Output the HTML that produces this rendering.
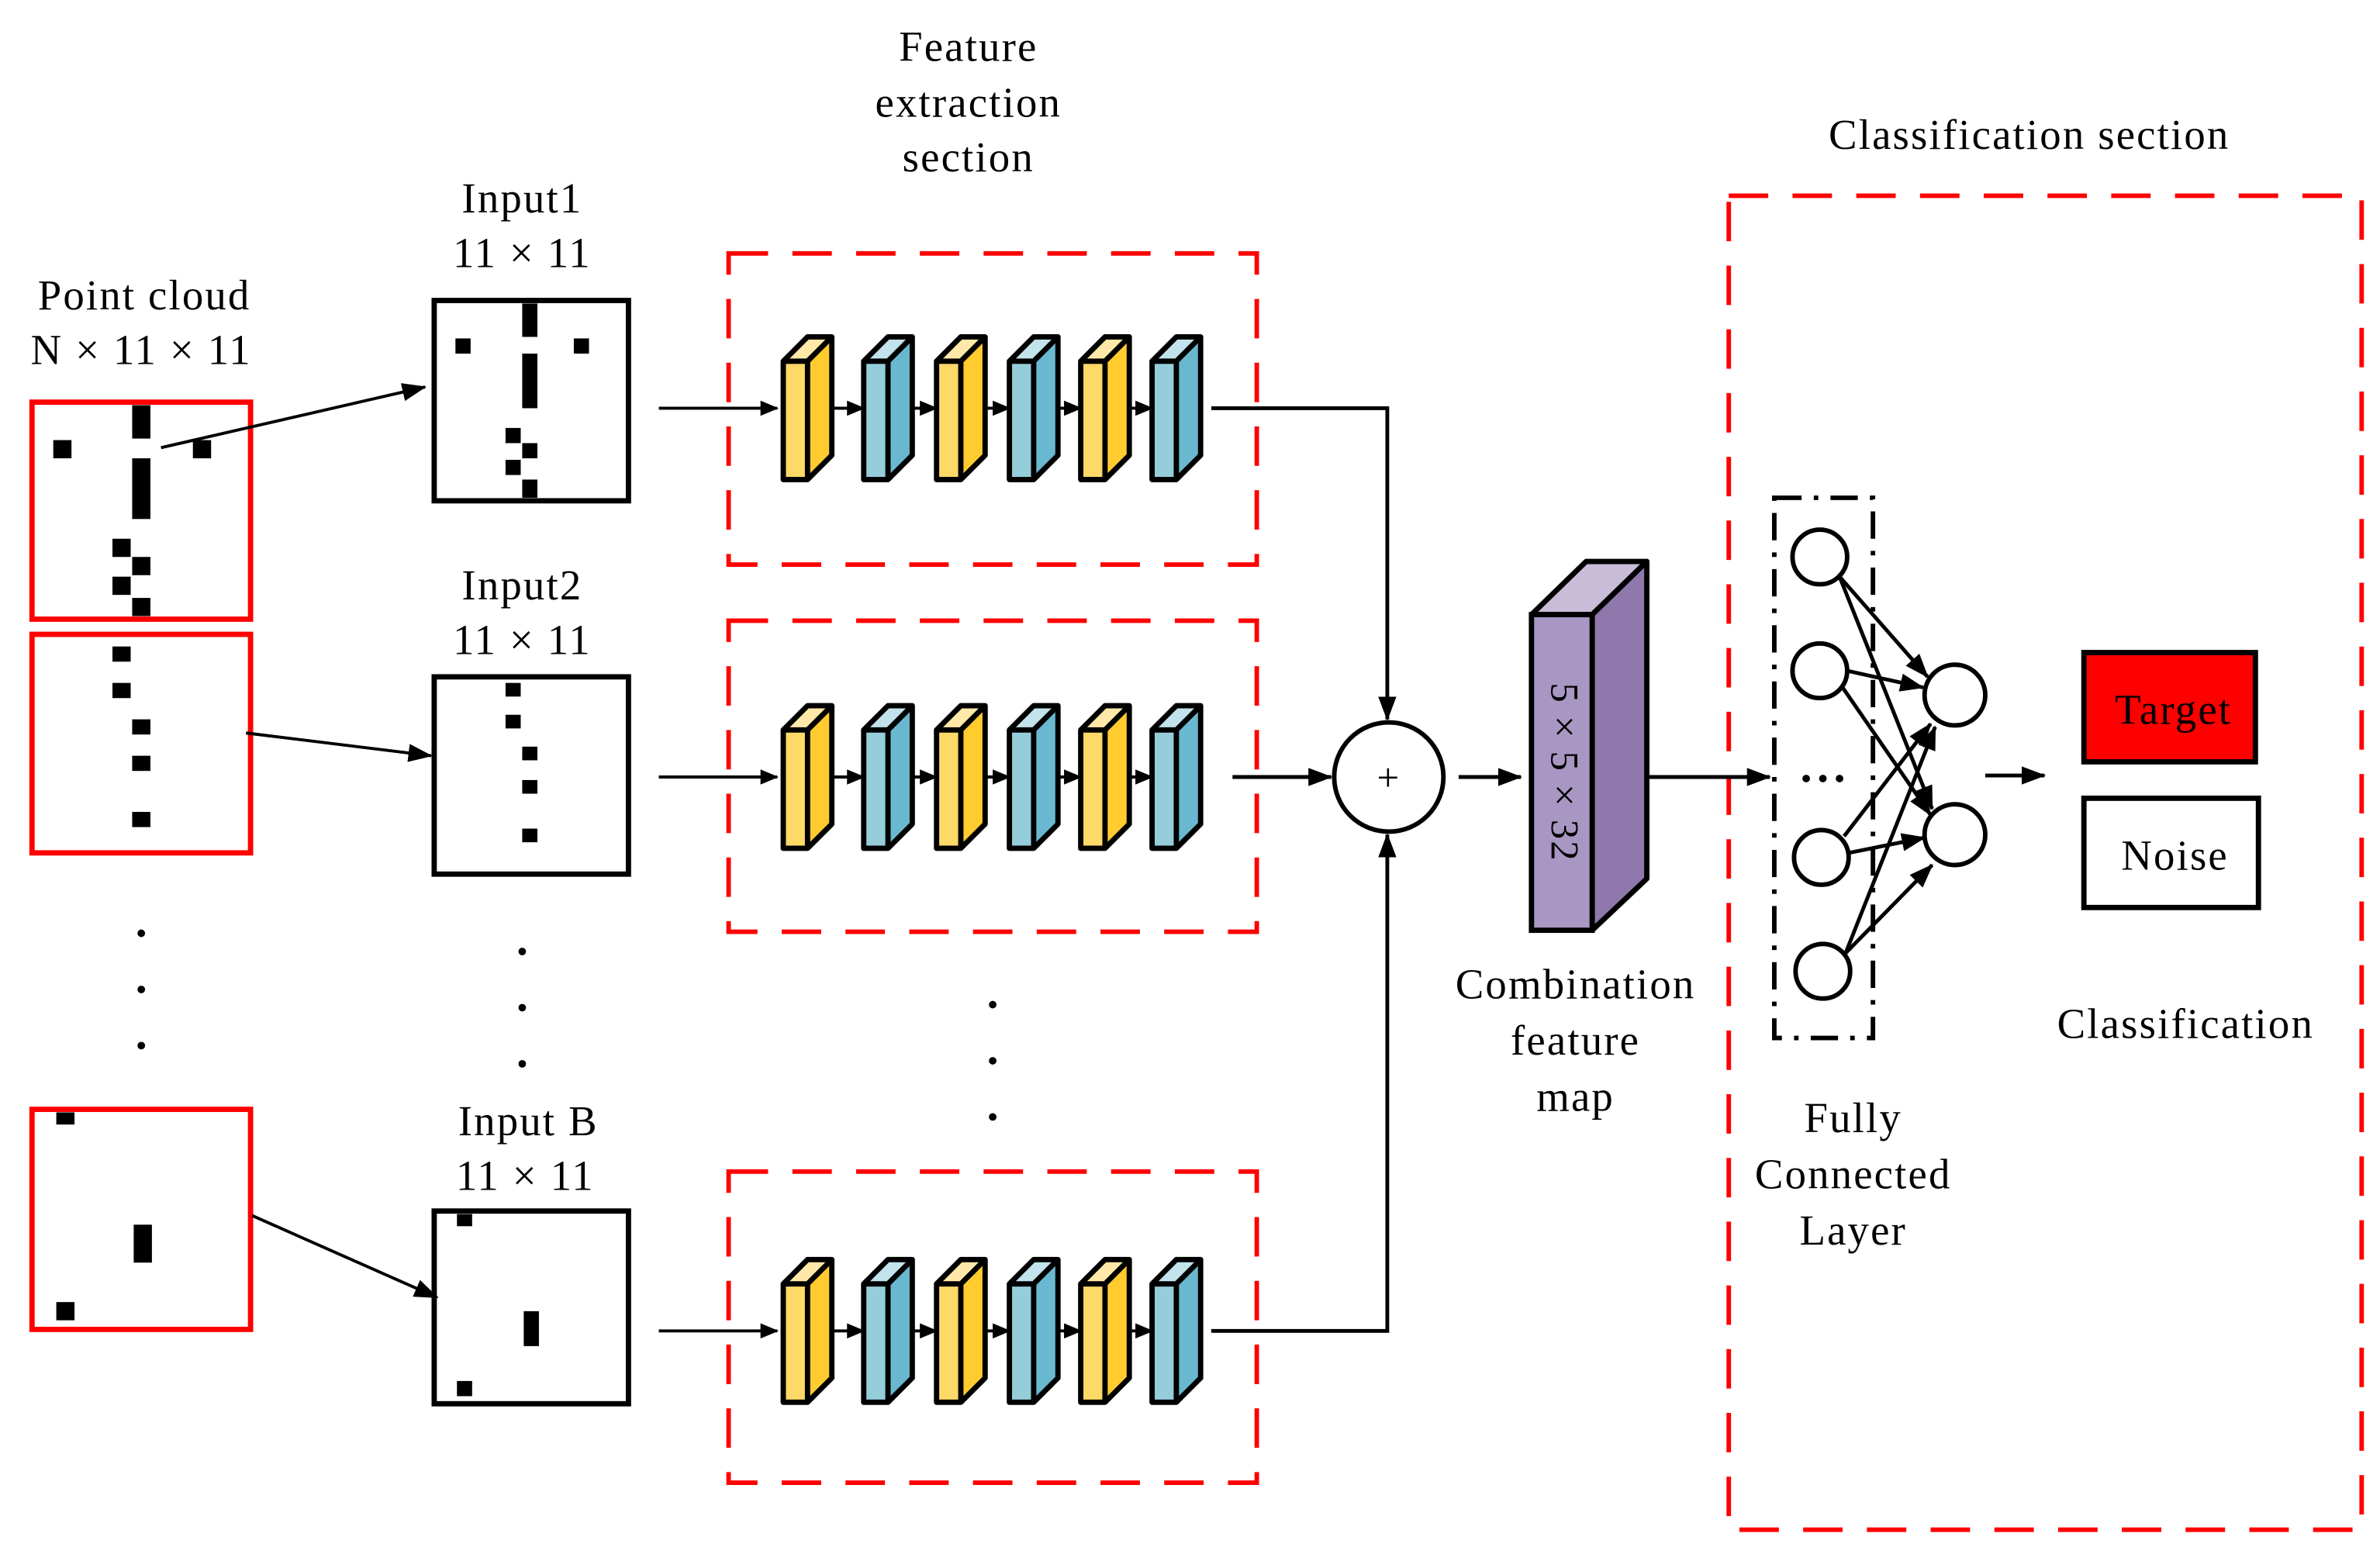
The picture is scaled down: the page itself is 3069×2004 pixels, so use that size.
<!DOCTYPE html>
<html><head><meta charset="utf-8"><style>html,body{margin:0;padding:0;background:#fff}svg{display:block}text{font-family:"Liberation Serif",serif;fill:#000;letter-spacing:1.1px}</style></head>
<body>
<svg width="3069" height="2004" viewBox="0 0 1568 1024" xmlns="http://www.w3.org/2000/svg">
<defs>
<marker id="ar" markerWidth="12" markerHeight="10" refX="11" refY="5" orient="auto" markerUnits="userSpaceOnUse"><path d="M0,0L12,5L0,10z" fill="#000"/></marker>
<marker id="ar2" markerWidth="16" markerHeight="12" refX="15" refY="6" orient="auto" markerUnits="userSpaceOnUse"><path d="M0,0L16,6L0,12z" fill="#000"/></marker>
<g id="Y"><path d="M0,16L16,0L32,0L16,16z" fill="#FFE8A8"/><path d="M16,16L32,0L32,78L16,94z" fill="#FFCB2F"/><rect x="0" y="16" width="16" height="78" fill="#FDD968"/><path d="M0,16L16,0L32,0L32,78L16,94L0,94z M0,16H16V94 M16,16L32,0" fill="none" stroke="#000" stroke-width="3.5" stroke-linejoin="round"/></g>
<g id="B"><path d="M0,16L16,0L32,0L16,16z" fill="#C2E3EB"/><path d="M16,16L32,0L32,78L16,94z" fill="#6AB8CF"/><rect x="0" y="16" width="16" height="78" fill="#95CDDB"/><path d="M0,16L16,0L32,0L32,78L16,94L0,94z M0,16H16V94 M16,16L32,0" fill="none" stroke="#000" stroke-width="3.5" stroke-linejoin="round"/></g>
<g id="row">
<use href="#Y" x="516" y="-47"/><use href="#B" x="569" y="-47"/><use href="#Y" x="617" y="-47"/><use href="#B" x="665" y="-47"/><use href="#Y" x="712" y="-47"/><use href="#B" x="759" y="-47"/>
<g stroke="#000" stroke-width="2" marker-end="url(#ar)"><line x1="548" y1="0" x2="569" y2="0"/><line x1="601" y1="0" x2="617" y2="0"/><line x1="649" y1="0" x2="665" y2="0"/><line x1="697" y1="0" x2="712" y2="0"/><line x1="744" y1="0" x2="759" y2="0"/></g>
<line x1="434" y1="0" x2="512" y2="0" stroke="#000" stroke-width="2" marker-end="url(#ar)"/>
</g>
</defs>

<g font-size="28" text-anchor="middle">
<text x="638" y="40">Feature</text><text x="638" y="77">extraction</text><text x="638" y="113">section</text>
<text x="1337" y="98">Classification section</text>
<text x="95" y="204">Point cloud</text><text x="93" y="240">N × 11 × 11</text>
<text x="344" y="140">Input1</text><text x="344" y="176">11 × 11</text>
<text x="344" y="395">Input2</text><text x="344" y="431">11 × 11</text>
<text x="348" y="748">Input B</text><text x="346" y="784">11 × 11</text>
<text x="1038" y="658">Combination</text><text x="1038" y="695">feature</text><text x="1038" y="732">map</text>
<text x="1221" y="746">Fully</text><text x="1221" y="783">Connected</text><text x="1221" y="820">Layer</text>
<text x="1440" y="684">Classification</text>
</g>

<g fill="none" stroke="#f00" stroke-width="3" stroke-dasharray="26,16">
<rect x="480" y="167" width="348" height="205"/>
<rect x="480" y="409" width="348" height="205"/>
<rect x="480" y="772" width="348" height="205"/>
<rect x="1139" y="129" width="417" height="879"/>
</g>

<g fill="none" stroke="#f00" stroke-width="3.5">
<rect x="21" y="265" width="144" height="143"/><rect x="21" y="418" width="144" height="144"/><rect x="21" y="731" width="144" height="145"/>
</g>
<g fill="#000">
<rect x="35" y="290" width="12" height="12"/><rect x="87" y="267" width="12" height="22"/><rect x="127" y="290" width="12" height="12"/><rect x="87" y="302" width="12" height="40"/><rect x="74" y="355" width="12" height="12"/><rect x="87" y="367" width="12" height="12"/><rect x="74" y="380" width="12" height="12"/><rect x="87" y="394" width="12" height="12"/>
<rect x="74" y="426" width="12" height="10"/><rect x="74" y="450" width="12" height="10"/><rect x="87" y="474" width="12" height="10"/><rect x="87" y="498" width="12" height="10"/><rect x="87" y="535" width="12" height="10"/>
<rect x="37" y="733" width="12" height="8"/><rect x="88" y="807" width="12" height="25"/><rect x="37" y="858" width="12" height="12"/>
<circle cx="93" cy="615" r="2.5"/><circle cx="93" cy="652" r="2.5"/><circle cx="93" cy="689" r="2.5"/>
<circle cx="344" cy="627" r="2.5"/><circle cx="344" cy="664" r="2.5"/><circle cx="344" cy="701" r="2.5"/>
<circle cx="654" cy="662" r="2.5"/><circle cx="654" cy="699" r="2.5"/><circle cx="654" cy="736" r="2.5"/>
</g>

<g fill="none" stroke="#000" stroke-width="3.5">
<rect x="286" y="198" width="128" height="132"/><rect x="286" y="446" width="128" height="130"/><rect x="286" y="798" width="128" height="127"/>
</g>
<g fill="#000">
<rect x="300" y="223" width="10" height="10"/><rect x="344" y="200" width="10" height="22"/><rect x="378" y="223" width="10" height="10"/><rect x="344" y="233" width="10" height="36"/><rect x="333" y="282" width="10" height="10"/><rect x="344" y="292" width="10" height="10"/><rect x="333" y="303" width="10" height="10"/><rect x="344" y="316" width="10" height="12"/>
<rect x="333" y="450" width="10" height="9"/><rect x="333" y="471" width="10" height="9"/><rect x="344" y="492" width="10" height="9"/><rect x="344" y="514" width="10" height="9"/><rect x="344" y="546" width="10" height="9"/>
<rect x="301" y="800" width="10" height="8"/><rect x="345" y="864" width="10" height="23"/><rect x="301" y="910" width="10" height="10"/>
</g>
<g stroke="#000" stroke-width="2" marker-end="url(#ar2)">
<line x1="106" y1="295" x2="280" y2="255"/>
<line x1="162" y1="483" x2="284" y2="498"/>
<line x1="166" y1="801" x2="288" y2="855"/>
</g>

<use href="#row" y="269"/><use href="#row" y="512"/><use href="#row" y="877"/>
<g stroke="#000" stroke-width="2.5" fill="none">
<polyline points="798,269 914,269 914,474" marker-end="url(#ar2)"/>
<polyline points="798,877 914,877 914,550" marker-end="url(#ar2)"/>
<line x1="812" y1="512" x2="877" y2="512" marker-end="url(#ar2)"/>
<circle cx="915" cy="512" r="36" stroke-width="3"/>
<line x1="961" y1="512" x2="1002" y2="512" marker-end="url(#ar2)"/>
</g>
<text x="915" y="521" font-size="26" text-anchor="middle">+</text>

<path d="M1009,405L1045,370L1085,370L1049,405z" fill="#C9BCD9" stroke="#000" stroke-width="3.5" stroke-linejoin="round"/>
<path d="M1049,405L1085,370L1085,579L1049,613z" fill="#8E78AC" stroke="#000" stroke-width="3.5" stroke-linejoin="round"/>
<rect x="1009" y="405" width="40" height="208" fill="#A897C3" stroke="#000" stroke-width="3.5"/>
<text transform="translate(1022,509) rotate(90)" font-size="26" text-anchor="middle">5 × 5 × 32</text>
<line x1="1086" y1="512" x2="1166" y2="512" stroke="#000" stroke-width="2.5" marker-end="url(#ar2)"/>

<rect x="1169" y="328" width="65" height="356" fill="none" stroke="#000" stroke-width="3" stroke-dasharray="18,8,3,8"/>
<g fill="none" stroke="#000" stroke-width="3">
<circle cx="1199" cy="367" r="18"/><circle cx="1199" cy="442" r="18"/><circle cx="1200" cy="565" r="18"/><circle cx="1201" cy="640" r="18"/>
<circle cx="1288" cy="458" r="20"/><circle cx="1288" cy="550" r="20"/>
</g>
<g stroke="#000" stroke-width="2.5" marker-end="url(#ar2)">
<line x1="1212" y1="380" x2="1270" y2="446"/><line x1="1212" y1="380" x2="1273" y2="533"/>
<line x1="1217" y1="442" x2="1267" y2="453"/><line x1="1214" y1="453" x2="1272" y2="537"/>
<line x1="1215" y1="551" x2="1272" y2="477"/><line x1="1218" y1="562" x2="1268" y2="552"/>
<line x1="1216" y1="628" x2="1275" y2="479"/><line x1="1216" y1="628" x2="1273" y2="570"/>
<line x1="1308" y1="511" x2="1347" y2="511"/>
</g>
<g fill="#000"><circle cx="1190" cy="513" r="2.5"/><circle cx="1201" cy="513" r="2.5"/><circle cx="1212" cy="513" r="2.5"/></g>

<rect x="1373" y="430" width="113" height="72" fill="#f00" stroke="#000" stroke-width="3.5"/>
<rect x="1373" y="526" width="115" height="72" fill="#fff" stroke="#000" stroke-width="3.5"/>
<text x="1432" y="477" font-size="28" text-anchor="middle">Target</text>
<text x="1433" y="573" font-size="28" text-anchor="middle">Noise</text>
</svg>
</body></html>
